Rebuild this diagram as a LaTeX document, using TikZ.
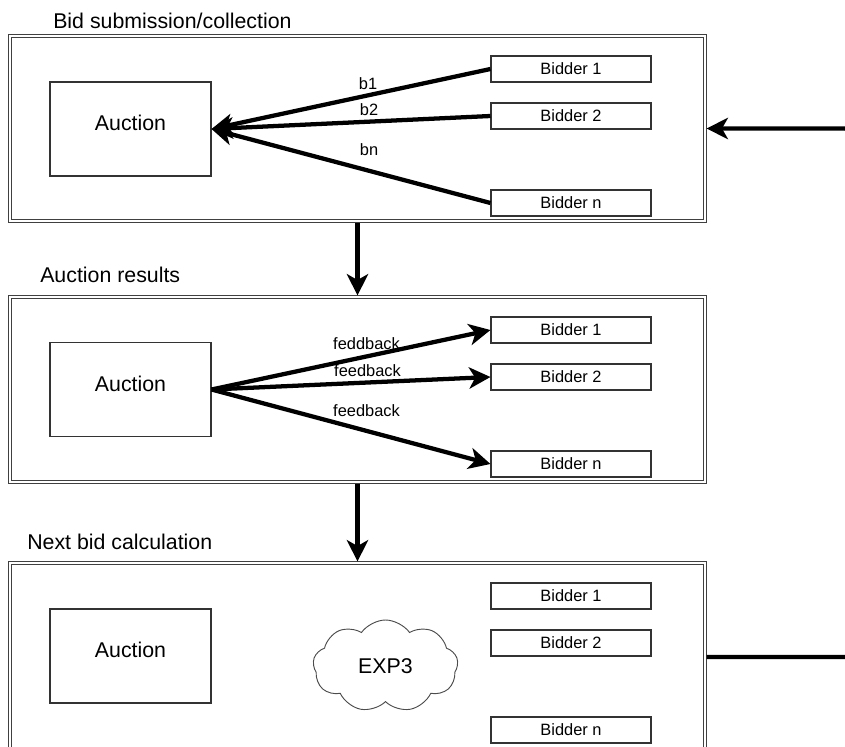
\documentclass[tikz,border=0pt]{standalone}
\usepackage{fontspec}
\setmainfont{Liberation Sans}
\usetikzlibrary{arrows.meta,shapes.symbols}

\begin{document}
\begin{tikzpicture}[x=0.75pt, y=-0.75pt,
        frame/.style={rectangle, draw=black!75, double=white, line width=0.6pt, double distance=1.2pt, outer sep=1.2pt, minimum width=521.25pt, minimum height=138.75pt, inner sep=0pt},
        auction/.style={rectangle, draw=black!80, line width=0.8pt, minimum width=120.75pt, minimum height=70.5pt, text depth=9pt, font=\fontsize{16}{19}\selectfont},
        bidder/.style={rectangle, draw=black!80, line width=0.8pt, minimum width=120pt, minimum height=19.5pt, inner sep=0pt, font=\fontsize{12.3}{14}\selectfont},
        title/.style={anchor=base west, inner sep=0pt, font=\fontsize{16}{19}\selectfont},
        lbl/.style={anchor=base, inner sep=0pt, font=\fontsize{12.3}{14}\selectfont},
        algo/.style={cloud, cloud puffs=9, cloud puff arc=110, aspect=1.55, draw=black!70, line width=0.7pt, minimum width=108.75pt, minimum height=69pt, font=\fontsize{16}{19}\selectfont},
        flow/.style={draw, line width=3.2pt, -{Stealth[length=16pt, width=16pt, inset=4.5pt]}}
    ]
        \useasboundingbox (0,0) rectangle (845,746);
        \clip (0,0) rectangle (845,746);

        % stage 1: bids go to the auction
        \node[title] (t1) at (53,28) {Bid submission/collection};
        \node[frame] (frame1) at (357.5,128.5) {};
        \node[auction] (auc1) at (130.5,129) {Auction};
        \node[bidder] (bida) at (571,69) {Bidder 1};
        \node[bidder] (bidb) at (571,116) {Bidder 2};
        \node[bidder] (bidn) at (571,203) {Bidder n};

        \draw[flow] (bida.west) -- (auc1.east);
        \draw[flow] (bidb.west) -- (auc1.east);
        \draw[flow] (bidn.west) -- (auc1.east);
        \node[lbl] (lb1) at (368,89) {b1};
        \node[lbl] (lb2) at (369,115) {b2};
        \node[lbl] (lbn) at (369,155) {bn};

        % stage 2: results go back
        \node[title] (t2) at (40,282) {Auction results};
        \node[frame] (frame2) at (357.5,389.5) {};
        \node[auction] (auc2) at (130.5,389.5) {Auction};
        \node[bidder] (resa) at (571,330) {Bidder 1};
        \node[bidder] (resb) at (571,377) {Bidder 2};
        \node[bidder] (resn) at (571,464) {Bidder n};

        \draw[flow] (auc2.east) -- (resa.west);
        \draw[flow] (auc2.east) -- (resb.west);
        \draw[flow] (auc2.east) -- (resn.west);
        \node[lbl] (lf1) at (366.5,349) {feddback};
        \node[lbl] (lf2) at (367.5,376) {feedback};
        \node[lbl] (lfn) at (366.5,416) {feedback};

        % stage 3: next bids
        \node[title] (t3) at (27,549) {Next bid calculation};
        \node[frame, minimum height=141pt] (frame3) at (357.5,657) {};
        \node[auction] (auc3) at (130.5,656) {Auction};
        \node[algo] (exp) at (385.5,666) {EXP3};
        \node[bidder] (nexta) at (571,596) {Bidder 1};
        \node[bidder] (nextb) at (571,643) {Bidder 2};
        \node[bidder] (nextn) at (571,730) {Bidder n};

        \draw[flow] (frame1.south) -- (frame2.north);
        \draw[flow] (frame2.south) -- (frame3.north);
        \draw[flow, rounded corners=7.5pt] (frame3.east) -- ++(148,0) |- (frame1.east);
    \end{tikzpicture}
\end{document}
